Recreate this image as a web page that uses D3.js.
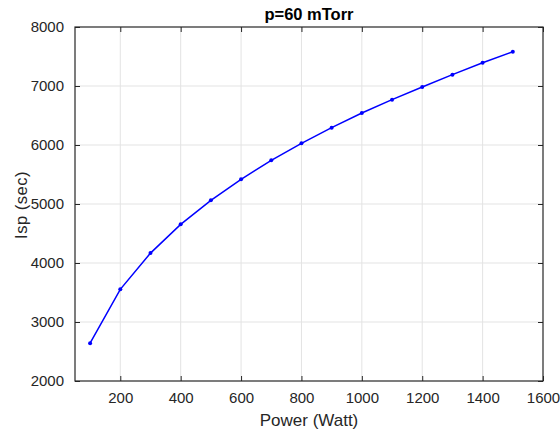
<!DOCTYPE html>
<html>
<head>
<meta charset="utf-8">
<script src="https://cdn.jsdelivr.net/npm/d3@7"></script>
<style>
  html, body { margin: 0; padding: 0; background: #fff; }
  svg { display: block; font-family: "Liberation Sans", Arial, sans-serif; }
</style>
</head>
<body>
<svg id="chart" width="560" height="432"></svg>
<script>
// Specific impulse vs. input power at 60 mTorr
const power = [100, 200, 300, 400, 500, 600, 700, 800, 900, 1000, 1100, 1200, 1300, 1400, 1500];
const isp = [2640, 3554, 4168, 4655, 5062, 5418, 5740, 6028, 6294, 6542, 6768, 6984, 7192, 7394, 7580];
const xTicks = [200, 400, 600, 800, 1000, 1200, 1400, 1600];
const yTicks = [2000, 3000, 4000, 5000, 6000, 7000, 8000];

const W = 560, H = 432;
const m = { left: 75, right: 17, top: 27, bottom: 51 };
const svg = d3.select("#chart");

const x = d3.scaleLinear().domain([50, 1600]).range([m.left, W - m.right]);
const y = d3.scaleLinear().domain([2000, 8000]).range([H - m.bottom, m.top]);

const axisColor = "#262626";
const gridColor = "#e3e3e3";
const tickLen = 5;

// grid
const grid = svg.append("g");
grid.selectAll(".gx").data(xTicks.filter(d => d < 1600)).join("line")
  .attr("x1", d => x(d)).attr("x2", d => x(d))
  .attr("y1", m.top).attr("y2", H - m.bottom)
  .attr("stroke", gridColor).attr("stroke-width", 1);
grid.selectAll(".gy").data(yTicks.filter(d => d > 2000 && d < 8000)).join("line")
  .attr("y1", d => y(d)).attr("y2", d => y(d))
  .attr("x1", m.left).attr("x2", W - m.right)
  .attr("stroke", gridColor).attr("stroke-width", 1);

// axes (ticks point inward)
const fmt = d3.format("d");
function styleAxis(g) {
  g.select(".domain").remove();
  g.selectAll("line").attr("stroke", axisColor).attr("stroke-width", 1);
  g.selectAll("text").attr("fill", axisColor).style("font-size", "15px")
    .style("font-family", "Liberation Sans, Arial, sans-serif");
}
svg.append("g").attr("transform", `translate(0,${H - m.bottom})`)
  .call(d3.axisBottom(x).tickValues(xTicks).tickFormat(fmt).tickSizeInner(-tickLen).tickSizeOuter(0).tickPadding(11))
  .call(styleAxis);
svg.append("g").attr("transform", `translate(0,${m.top})`)
  .call(d3.axisTop(x).tickValues(xTicks).tickFormat("").tickSizeInner(-tickLen).tickSizeOuter(0))
  .call(styleAxis);
svg.append("g").attr("transform", `translate(${m.left},0)`)
  .call(d3.axisLeft(y).tickValues(yTicks).tickFormat(fmt).tickSizeInner(-tickLen).tickSizeOuter(0).tickPadding(11))
  .call(styleAxis);
svg.append("g").attr("transform", `translate(${W - m.right},0)`)
  .call(d3.axisRight(y).tickValues(yTicks).tickFormat("").tickSizeInner(-tickLen).tickSizeOuter(0))
  .call(styleAxis);

// frame
svg.append("rect")
  .attr("x", m.left).attr("y", m.top)
  .attr("width", W - m.right - m.left).attr("height", H - m.bottom - m.top)
  .attr("fill", "none").attr("stroke", axisColor).attr("stroke-width", 1.2);

// data line + markers
const line = d3.line().x((d, i) => x(power[i])).y(d => y(d));
svg.append("path").datum(isp)
  .attr("d", line).attr("fill", "none")
  .attr("stroke", "#0000ff").attr("stroke-width", 1.5);
svg.selectAll(".pt").data(isp).join("circle")
  .attr("cx", (d, i) => x(power[i])).attr("cy", d => y(d))
  .attr("r", 2).attr("fill", "#0000ff");

// labels
svg.append("text").attr("x", (m.left + W - m.right) / 2).attr("y", 20)
  .attr("text-anchor", "middle").attr("fill", "#000")
  .style("font-size", "16.5px").style("font-weight", "bold")
  .text("p=60 mTorr");
svg.append("text").attr("x", (m.left + W - m.right) / 2).attr("y", 426)
  .attr("text-anchor", "middle").attr("fill", axisColor)
  .style("font-size", "17px")
  .text("Power (Watt)");
svg.append("text")
  .attr("transform", "translate(27,205) rotate(-90)")
  .attr("text-anchor", "middle").attr("fill", axisColor)
  .style("font-size", "16.5px").style("letter-spacing", "0.5px")
  .text("Isp (sec)");
</script>
</body>
</html>
